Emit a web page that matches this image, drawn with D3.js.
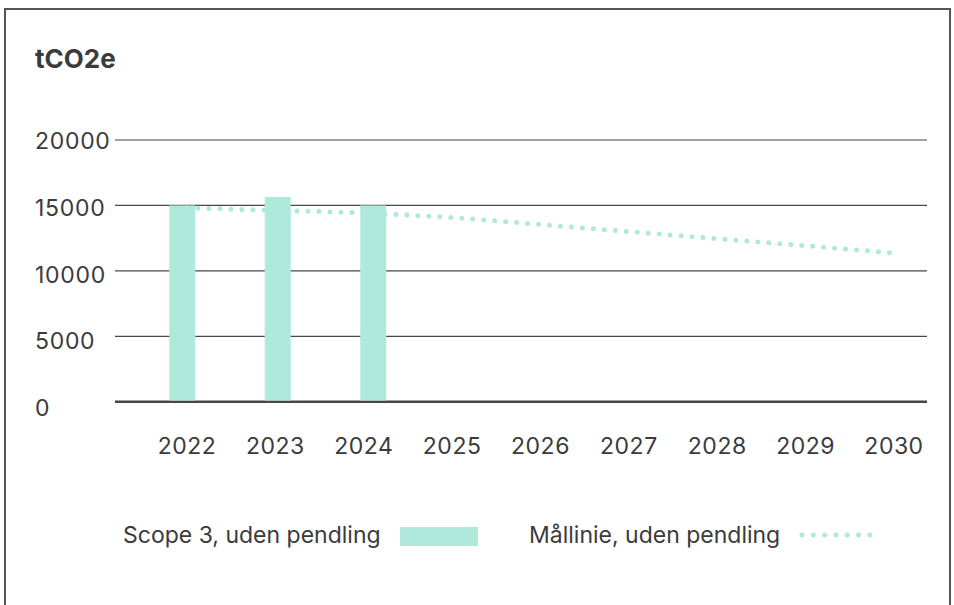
<!DOCTYPE html>
<html>
<head>
<meta charset="utf-8">
<script src="https://cdn.jsdelivr.net/npm/d3@7"></script>
<style>
  html, body { margin: 0; padding: 0; background: #fff; }
  svg { display: block; }
  text { font-family: Inter, "Noto Sans", sans-serif; fill: #3b3b3b; }
</style>
</head>
<body>
<svg id="chart" width="954" height="605"></svg>
<script>
// ---- data ----
const years = ["2022","2023","2024","2025","2026","2027","2028","2029","2030"];
const barYears = ["2022","2023","2024"];
const scope3 = [15000, 15650, 15000];
const targetLine = [14810, 14620, 14430, 14080, 13540, 13000, 12460, 11920, 11360];
const yTicks = [0, 5000, 10000, 15000, 20000];
const unitLabel = "tCO2e";
const legendLabels = ["Scope 3, uden pendling", "Mållinie, uden pendling"];

const barColor = "#aee9dc";
const gridColor = "#474747";

const svg = d3.select("#chart");

// frame
svg.append("rect")
  .attr("x", 5).attr("y", 9).attr("width", 945).attr("height", 620)
  .attr("fill", "none").attr("stroke", "#555").attr("stroke-width", 2);

// scales
const y = d3.scaleLinear().domain([0, 20000]).range([401.7, 140]);
const yLab = d3.scaleLinear().domain([0, 20000]).range([408, 141]);
const xLab = d3.scalePoint().domain(years).range([187, 894]);
const xBar = d3.scaleBand().domain(barYears).range([134.5, 421]);
const barW = 26;
const gridX0 = 115, gridX1 = 927;

// unit label
svg.append("text").attr("x", 35).attr("y", 58)
  .attr("dominant-baseline", "central")
  .attr("font-size", 26).attr("font-weight", 700).text(unitLabel);

// gridlines
svg.append("g").selectAll("line").data(yTicks).join("line")
  .attr("x1", gridX0).attr("x2", gridX1)
  .attr("y1", d => y(d)).attr("y2", d => y(d))
  .attr("stroke", gridColor)
  .attr("stroke-width", d => d === 0 ? 2.5 : 1.2);

// y tick labels
svg.append("g").selectAll("text").data(yTicks).join("text")
  .attr("x", 35).attr("y", d => yLab(d))
  .attr("dominant-baseline", "central")
  .attr("font-size", 23).attr("letter-spacing", 0.7)
  .text(d => d);

// target line (behind bars)
const line = d3.line()
  .x((d, i) => xLab(years[i]))
  .y(d => y(d));
svg.append("path").datum(targetLine)
  .attr("d", line)
  .attr("fill", "none")
  .attr("stroke", barColor)
  .attr("stroke-width", 5)
  .attr("stroke-linecap", "round")
  .attr("stroke-dasharray", "0 11");

// bars
svg.append("g").selectAll("rect").data(scope3).join("rect")
  .attr("x", (d, i) => xBar(barYears[i]) + xBar.bandwidth() / 2 - barW / 2)
  .attr("width", barW)
  .attr("y", d => y(d))
  .attr("height", d => y(0) - y(d) - 1.2)
  .attr("fill", barColor);

// x labels
svg.append("g").selectAll("text").data(years).join("text")
  .attr("x", d => xLab(d)).attr("y", 446)
  .attr("text-anchor", "middle").attr("dominant-baseline", "central")
  .attr("font-size", 23).attr("letter-spacing", 0.5)
  .text(d => d);

// legend
const lg = svg.append("g");
lg.append("text").attr("x", 123).attr("y", 535)
  .attr("dominant-baseline", "central").attr("font-size", 23)
  .text(legendLabels[0]);
lg.append("rect").attr("x", 400).attr("y", 527).attr("width", 78).attr("height", 19)
  .attr("fill", barColor);
lg.append("text").attr("x", 529).attr("y", 535)
  .attr("dominant-baseline", "central").attr("font-size", 23)
  .text(legendLabels[1]);
lg.append("line").attr("x1", 802).attr("x2", 872).attr("y1", 535).attr("y2", 535)
  .attr("stroke", barColor).attr("stroke-width", 5)
  .attr("stroke-linecap", "round").attr("stroke-dasharray", "0 11.3");
</script>
</body>
</html>
